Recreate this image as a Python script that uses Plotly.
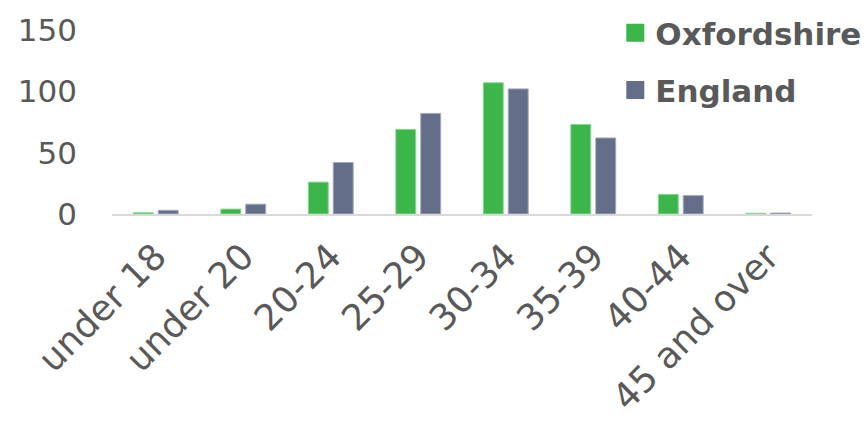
import plotly.graph_objects as go

# Age-group categories and rates per series
age_groups = ["under 18", "under 20", "20-24", "25-29", "30-34", "35-39", "40-44", "45 and over"]
oxfordshire = [1, 4, 26, 69, 107, 73, 16, 0.6]
england = [3, 8, 42, 82, 102, 62, 15, 0.8]
y_ticks = [0, 50, 100, 150]

series = [
    ("Oxfordshire", oxfordshire, "#3cb54a", "#8ad894"),
    ("England", england, "#646e88", "#a3aabb"),
]

FONT = "DejaVu Sans"
TEXT = "#595959"

fig = go.Figure()
for name, values, fill, edge in series:
    fig.add_trace(go.Bar(
        name=name, x=age_groups, y=values, showlegend=False,
        marker=dict(color=fill, line=dict(color=edge, width=1)),
    ))
# legend entries with larger square swatches
for name, values, fill, edge in series:
    fig.add_trace(go.Scatter(
        name=name, x=[None], y=[None], mode="markers", legendgroup=name,
        marker=dict(symbol="square", size=16, color=fill, line=dict(color=fill, width=2)),
    ))

fig.update_layout(
    width=866, height=422,
    margin=dict(l=112, r=54, t=30, b=208, autoexpand=False),
    paper_bgcolor="white", plot_bgcolor="white",
    barmode="group", bargap=0.43, bargroupgap=0.2,
    font=dict(family=FONT, color=TEXT),
    showlegend=True,
    legend=dict(
        x=1.079, y=1.13, xanchor="right", yanchor="top",
        font=dict(family=FONT, size=31, color=TEXT, weight="bold"),
        itemsizing="trace", bgcolor="rgba(0,0,0,0)",
        tracegroupgap=14, itemwidth=30,
    ),
    xaxis=dict(
        tickangle=-45, tickfont=dict(size=36, color=TEXT),
        showline=True, linecolor="#d9d9d9", linewidth=2,
        ticks="", showgrid=False, automargin=False,
        ticklabelstandoff=5,
    ),
    yaxis=dict(
        range=[0, 150], tickvals=y_ticks, tickfont=dict(size=31, color=TEXT),
        showgrid=False, zeroline=False, showline=False, ticks="",
        ticklabelstandoff=34, automargin=False,
    ),
)

fig.write_html("out.html")
